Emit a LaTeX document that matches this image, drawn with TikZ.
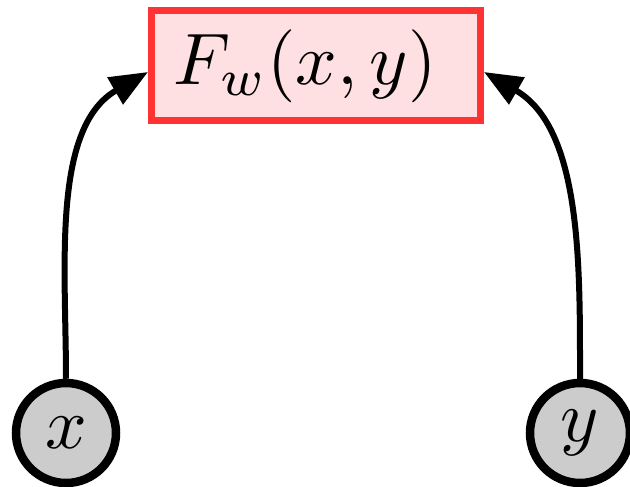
\documentclass[tikz,border=0pt]{standalone}
\usepackage{graphicx}
\usetikzlibrary{arrows.meta}
\definecolor{boxred}{HTML}{FF3333}
\definecolor{boxfill}{HTML}{FFE0E2}
\definecolor{nodegray}{HTML}{CCCCCC}
\newcommand{\bigmath}[1]{\scalebox{7.3}{$#1$}}
\begin{document}
\begin{tikzpicture}[x=1pt,y=-1pt,
  fbox/.style={draw=boxred,fill=boxfill,line width=7pt,minimum width=329pt,minimum height=110pt,inner sep=0pt},
  var/.style={circle,draw=black,fill=nodegray,line width=8.5pt,minimum size=100pt,inner sep=0pt},
  link/.style={line width=6pt,-{Triangle[length=38pt,width=30pt]}}]
\useasboundingbox (0,0) rectangle (630,487);
\node[fbox] (f) at (316,66) {\hspace*{-22pt}\bigmath{F_w(x,y)}};
\node[var] (x) at (66,433) {\bigmath{x}};
\node[var] (y) at (580,433) {\bigmath{y}};
\draw[link] (x.north) to[out=90,in=-150,looseness=0.9] ([yshift=-6pt]f.west);
\draw[link] (y.north) to[out=90,in=-30,looseness=0.9] ([yshift=-6pt]f.east);
\end{tikzpicture}
\end{document}
